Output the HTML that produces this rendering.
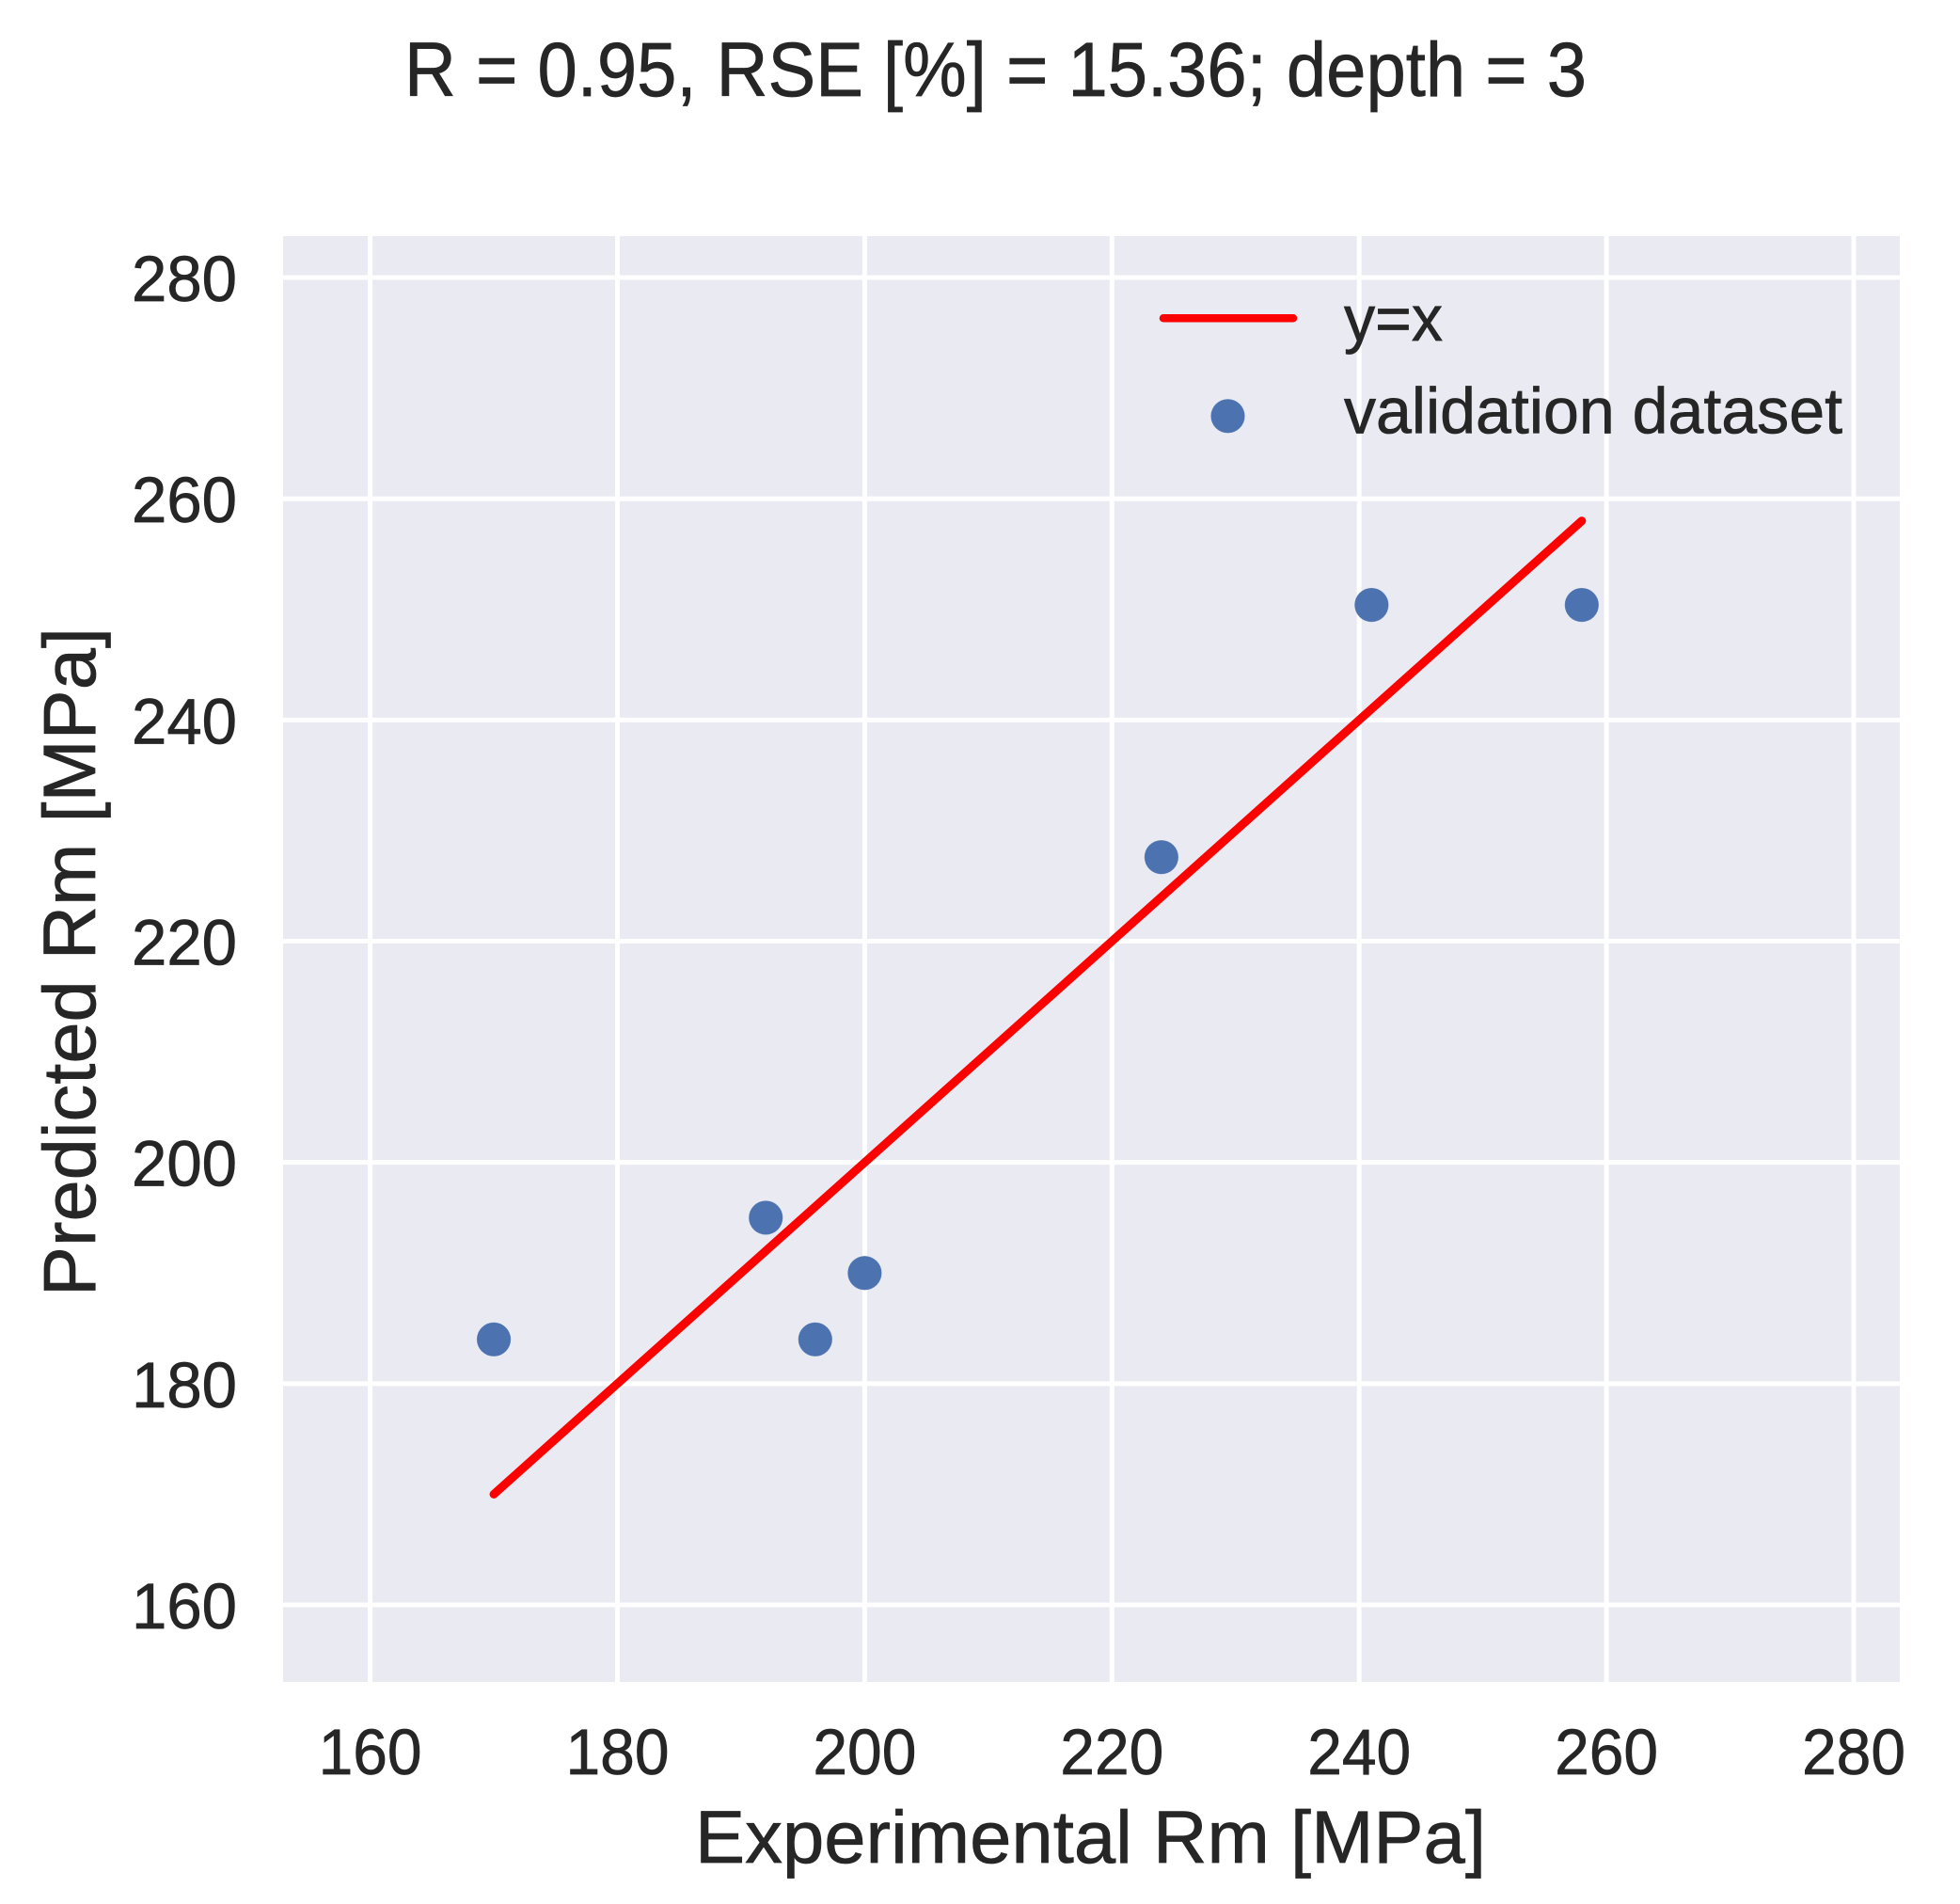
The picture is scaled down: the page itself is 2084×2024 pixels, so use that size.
<!DOCTYPE html>
<html lang="en">
<head>
<meta charset="utf-8">
<title>Experimental vs Predicted Rm</title>
<style>
html,body{margin:0;padding:0;background:#fff;}
svg{display:block;}
text{font-family:"Liberation Sans",Arial,sans-serif;fill:#262626;stroke:#262626;stroke-width:0.7px;}
</style>
</head>
<body>
<svg id="chart" xmlns="http://www.w3.org/2000/svg" width="2084" height="2024" viewBox="0 0 2084 2024">
  <rect x="0" y="0" width="2084" height="2024" fill="#ffffff"/>
  <rect x="301" y="251" width="1719" height="1537" fill="#eaeaf2"/>
  <g id="grid"></g>
  <g id="xticks"></g>
  <g id="yticks"></g>
  <g id="series"></g>
  <text x="430" y="102" font-size="82" textLength="1257" lengthAdjust="spacingAndGlyphs">R = 0.95, RSE [%] = 15.36; depth = 3</text>
  <text x="739" y="1980" font-size="79" textLength="841" lengthAdjust="spacingAndGlyphs">Experimental Rm [MPa]</text>
  <text transform="translate(101,1378) rotate(-90)" font-size="79" textLength="711" lengthAdjust="spacingAndGlyphs">Predicted Rm [MPa]</text>
  <g>
    <line x1="1237" y1="338.3" x2="1375" y2="338.3" stroke="#ff0000" stroke-width="8.5" stroke-linecap="round"/>
    <text x="1429" y="362" font-size="69" textLength="105" lengthAdjust="spacingAndGlyphs">y=x</text>
    <circle cx="1305.5" cy="442.3" r="18.2" fill="#4c72b0" stroke="#ffffff" stroke-opacity="0.35" stroke-width="0.8"/>
    <text x="1429" y="460.5" font-size="69" textLength="530" lengthAdjust="spacingAndGlyphs">validation dataset</text>
  </g>
</svg>
<script>
const xTickValues = [160, 180, 200, 220, 240, 260, 280];
const yTickValues = [160, 180, 200, 220, 240, 260, 280];
const experimental = [170, 192, 196, 200, 224, 241, 258];
const predicted = [184, 195, 184, 190, 227.6, 250.4, 250.4];
const identityLine = [170, 258];

const SVG_NS = 'http://www.w3.org/2000/svg';
const plotLeft = 301, plotRight = 2020, plotTop = 251, plotBottom = 1788;
function xScale(v) { return 393.6 + (v - 160) * 13.145; }
function yScale(v) { return 1706 - (v - 160) * 11.758; }
function make(tag, attrs, parent) {
  const el = document.createElementNS(SVG_NS, tag);
  for (const k in attrs) el.setAttribute(k, attrs[k]);
  parent.appendChild(el);
  return el;
}
const grid = document.getElementById('grid');
const xticks = document.getElementById('xticks');
const yticks = document.getElementById('yticks');
const series = document.getElementById('series');

xTickValues.forEach(function (v) {
  const line = make('line', {x1: xScale(v), x2: xScale(v), y1: plotTop, y2: plotBottom, stroke: '#ffffff', 'stroke-width': 5}, grid);
  
  
  const label = make('text', {x: xScale(v), y: 1886, 'font-size': 69, 'text-anchor': 'middle', textLength: 110, lengthAdjust: 'spacingAndGlyphs'}, xticks);
  label.textContent = String(v);
  
  
});
yTickValues.forEach(function (v) {
  const line = make('line', {x1: plotLeft, x2: plotRight, y1: yScale(v), y2: yScale(v), stroke: '#ffffff', 'stroke-width': 5}, grid);
  
  
  const label = make('text', {x: 252, y: yScale(v) + 25, 'font-size': 69, 'text-anchor': 'end', textLength: 112, lengthAdjust: 'spacingAndGlyphs'}, yticks);
  label.textContent = String(v);
  
  
});

const fit = make('line', {
  x1: xScale(identityLine[0]), y1: yScale(identityLine[0]),
  x2: xScale(identityLine[1]), y2: yScale(identityLine[1]),
  stroke: '#ff0000', 'stroke-width': 9, 'stroke-linecap': 'round'
}, series);



experimental.forEach(function (v, i) {
  const dot = make('circle', {cx: xScale(v), cy: yScale(predicted[i]), r: 18.2, fill: '#4c72b0', stroke: '#ffffff', 'stroke-opacity': 0.35, 'stroke-width': 0.8}, series);
  
  
});
</script>
</body>
</html>
